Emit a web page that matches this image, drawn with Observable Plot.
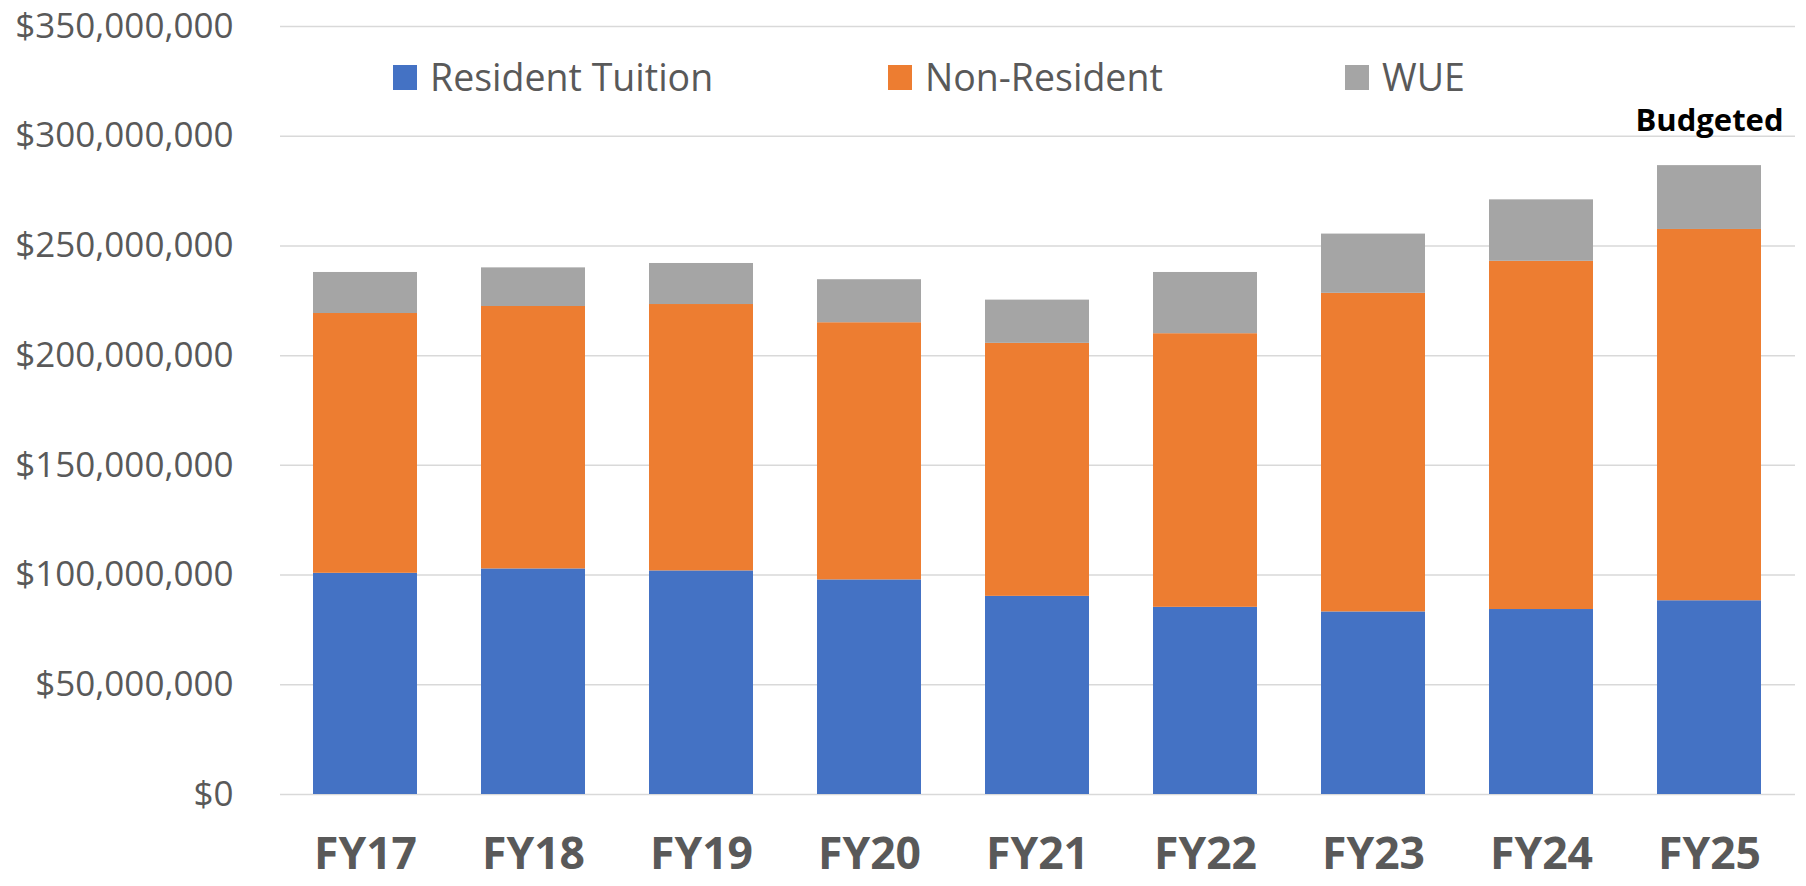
<!DOCTYPE html>
<html>
<head>
<meta charset="utf-8">
<script src="https://cdn.jsdelivr.net/npm/d3@7"></script>
<script src="https://cdn.jsdelivr.net/npm/@observablehq/plot@0.6"></script>
<style>
  html, body { margin: 0; padding: 0; background: #fff; }
  #wrap { position: relative; width: 1806px; height: 886px; font-family: "Open Sans", sans-serif; }
  #wrap svg { display: block; }
  .leg-item { position: absolute; top: 58px; height: 38px; display: flex; align-items: center; gap: 13px;
              font-size: 37.5px; line-height: 1; color: #595959; white-space: nowrap; }
  .leg-sw { width: 24px; height: 25px; display: inline-block; }
</style>
</head>
<body>
<div id="wrap"></div>
<script>
// ---- Data (values in US dollars) ----
const years = ["FY17", "FY18", "FY19", "FY20", "FY21", "FY22", "FY23", "FY24", "FY25"];
const seriesNames = ["Resident Tuition", "Non-Resident", "WUE"];
const residentTuition = [100.8e6, 102.8e6, 101.9e6, 97.8e6, 90.3e6, 85.3e6, 83.2e6, 84.3e6, 88.3e6];
const nonResident     = [118.4e6, 119.6e6, 121.4e6, 117.2e6, 115.3e6, 124.7e6, 145.2e6, 158.7e6, 169.2e6];
const wue             = [18.7e6, 17.6e6, 18.7e6, 19.6e6, 19.7e6, 27.9e6, 27.0e6, 28.0e6, 29.1e6];
const yTicks = [0, 50e6, 100e6, 150e6, 200e6, 250e6, 300e6, 350e6];
const annotationYear = "FY25";
const annotationText = "Budgeted";

const seriesColors = ["#4472C4", "#ED7D31", "#A5A5A5"];

// ---- Build tidy table ----
const seriesValues = [residentTuition, nonResident, wue];
const rows = [];
years.forEach((yr, i) => {
  seriesNames.forEach((s, j) => rows.push({ year: yr, series: s, value: seriesValues[j][i] }));
});
const totals = years.map((yr, i) => residentTuition[i] + nonResident[i] + wue[i]);
const annotation = [{ year: annotationYear, total: totals[years.indexOf(annotationYear)], label: annotationText }];

const fmt = d3.format(",");

const chart = Plot.plot({
  width: 1806,
  height: 886,
  marginLeft: 280,
  marginRight: 11,
  marginTop: 26,
  marginBottom: 92,
  style: { fontFamily: "'Open Sans', sans-serif", color: "#595959", background: "#fff" },
  x: { domain: years, paddingInner: 0.378, paddingOuter: 0.178 },
  y: { domain: [0, 350e6] },
  color: { domain: seriesNames, range: seriesColors },
  marks: [
    Plot.gridY(yTicks, { stroke: "#d9d9d9", strokeOpacity: 1, strokeWidth: 1.5 }),
    Plot.barY(rows, { x: "year", y: "value", fill: "series", order: seriesNames }),
    Plot.axisY({ ticks: yTicks, tickSize: 0, tickPadding: 47, fontSize: 35,
                 tickFormat: d => "$" + fmt(d), label: null }),
    Plot.axisX({ tickSize: 0, tickPadding: 43, fontSize: 44.5, fontWeight: "bold", label: null }),
    Plot.text(annotation, { x: "year", y: "total", text: "label", lineAnchor: "bottom", dy: -35,
                            fontSize: 31, fontWeight: "bold", fill: "#000" })
  ]
});

const wrap = document.getElementById("wrap");
wrap.appendChild(chart);

// ---- Legend (HTML overlay) ----
const legendLeft = [393, 888, 1345];
seriesNames.forEach((s, j) => {
  const item = document.createElement("div");
  item.className = "leg-item";
  item.style.left = legendLeft[j] + "px";
  const sw = document.createElement("span");
  sw.className = "leg-sw";
  sw.style.background = seriesColors[j];
  const tx = document.createElement("span");
  tx.textContent = s;
  item.appendChild(sw);
  item.appendChild(tx);
  wrap.appendChild(item);
});
</script>
</body>
</html>
